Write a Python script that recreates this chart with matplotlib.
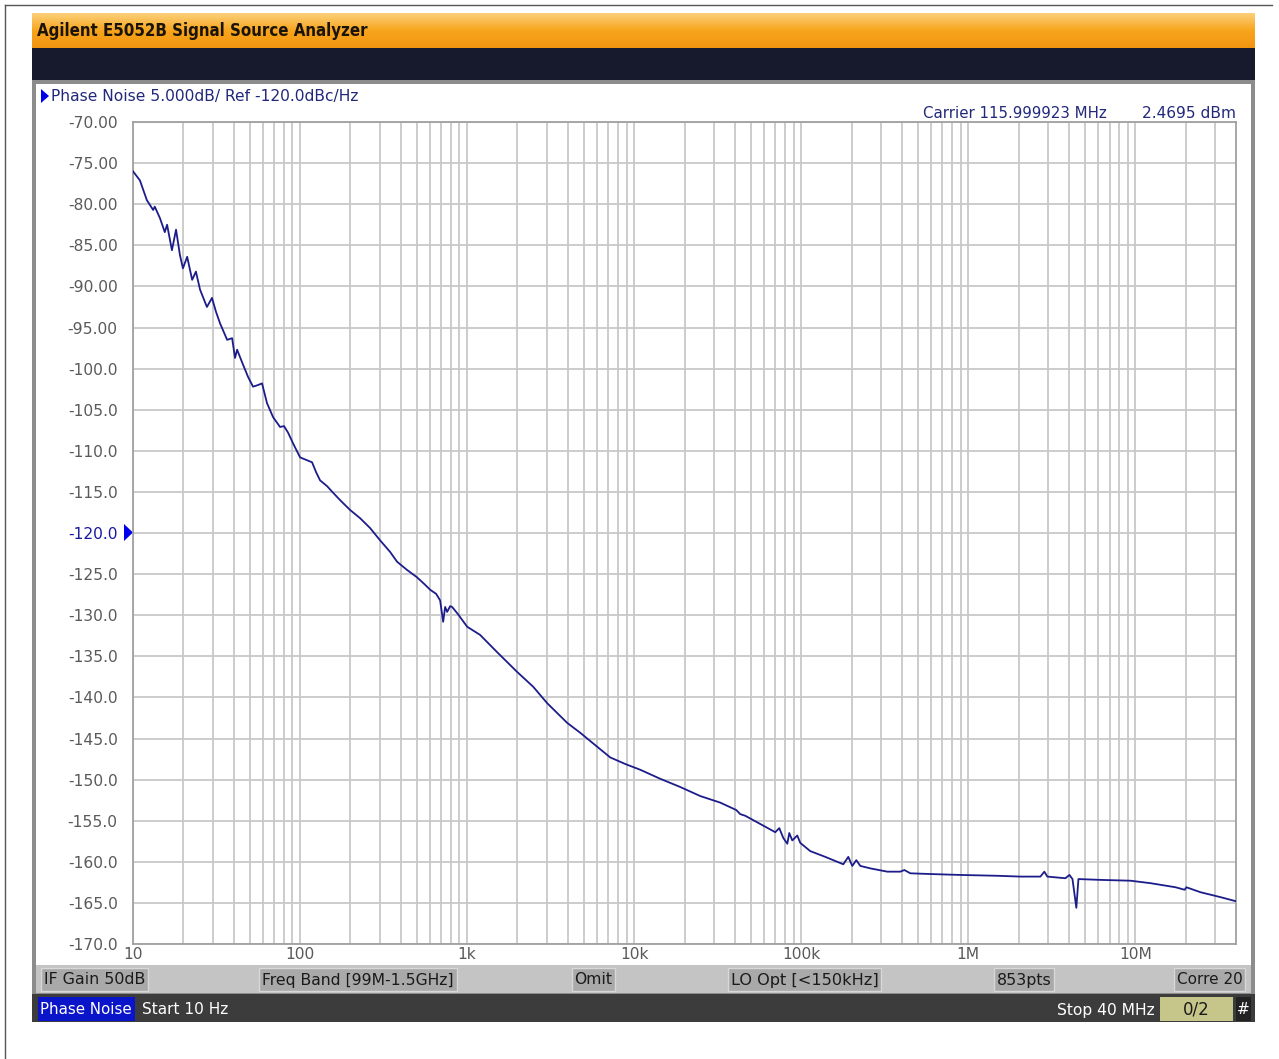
import numpy as np
import matplotlib
matplotlib.use("Agg")
import matplotlib.pyplot as plt
from matplotlib.patches import Rectangle, Polygon
from matplotlib.ticker import FixedLocator, NullFormatter
from matplotlib.colors import LinearSegmentedColormap

# ---------------- data ----------------
freq_hz = [10, 11.0, 12.1, 13.2, 13.5, 14.5, 15.5, 16.0, 17.1, 18.1, 19.1, 19.9, 21.1,
           22.6, 23.8, 25.2, 27.7, 29.7, 31.4, 33.2, 36.6, 39.2, 40.8, 42.0, 44.9,
           48.8, 52.3, 56.0, 59.2, 63.4, 68.9, 75.9, 80.2, 84.8, 90.8, 100, 108.6,
           118.0, 124.7, 131.8, 145.1, 157.6, 173.6, 199.3, 228.8, 262.6, 301.5,
           345.8, 380.9, 437.2, 501.9, 560.3, 600.2, 652.3, 689.2, 718.5, 738.6,
           759.3, 791.1, 813.4, 883.4, 1000, 1196, 1512, 1992, 2484, 3013, 3971,
           4750, 6003, 7183, 8831, 10860, 14310, 18860, 24850, 32730, 40830, 43120,
           46200, 56830, 69880, 73850, 78040, 82470, 84760, 88340, 94630, 98620,
           113200, 139200, 178400, 191200, 202000, 213500, 225600, 259000, 327300,
           391600, 413900, 449500, 617200, 895400, 1.49e6, 2.05e6, 2.70e6, 2.85e6,
           2.97e6, 3.81e6, 4.03e6, 4.20e6, 4.43e6, 4.56e6, 6.17e6, 9.33e6, 1.23e7,
           1.74e7, 1.97e7, 2.02e7, 2.45e7, 3.23e7, 4.0e7]
phase_noise_dbc = [-76.0, -77.1, -79.5, -80.7, -80.3, -81.7, -83.4, -82.5, -85.6, -83.1,
                   -86.2, -87.8, -86.4, -89.2, -88.2, -90.4, -92.5, -91.4, -93.1, -94.5,
                   -96.5, -96.3, -98.7, -97.7, -99.2, -101.0, -102.2, -102.0, -101.8,
                   -104.2, -105.9, -107.1, -107.0, -107.8, -109.1, -110.8, -111.1,
                   -111.4, -112.6, -113.6, -114.3, -115.1, -116.0, -117.2, -118.2,
                   -119.4, -120.9, -122.3, -123.5, -124.5, -125.4, -126.3, -126.9,
                   -127.4, -128.2, -130.8, -129.0, -129.6, -128.9, -129.0, -129.9,
                   -131.4, -132.4, -134.5, -136.9, -138.7, -140.7, -143.1, -144.3,
                   -146.0, -147.3, -148.1, -148.8, -149.9, -150.9, -152.0, -152.8,
                   -153.7, -154.2, -154.4, -155.4, -156.4, -155.9, -157.1, -157.8,
                   -156.5, -157.4, -156.8, -157.7, -158.7, -159.4, -160.3, -159.4,
                   -160.5, -159.8, -160.5, -160.8, -161.2, -161.2, -161.0, -161.4,
                   -161.5, -161.6, -161.7, -161.8, -161.8, -161.2, -161.8, -162.0,
                   -161.6, -162.1, -165.6, -162.1, -162.2, -162.3, -162.6, -163.1,
                   -163.4, -163.1, -163.7, -164.3, -164.8]

y_ticks = [-70, -75, -80, -85, -90, -95, -100, -105, -110, -115, -120, -125, -130,
           -135, -140, -145, -150, -155, -160, -165, -170]
y_tick_labels = ["-70.00", "-75.00", "-80.00", "-85.00", "-90.00", "-95.00", "-100.0",
                 "-105.0", "-110.0", "-115.0", "-120.0", "-125.0", "-130.0", "-135.0",
                 "-140.0", "-145.0", "-150.0", "-155.0", "-160.0", "-165.0", "-170.0"]
x_ticks = [10, 100, 1e3, 1e4, 1e5, 1e6, 1e7]
x_tick_labels = ["10", "100", "1k", "10k", "100k", "1M", "10M"]
f_start, f_stop = 10, 4e7
ref_level = -120.0

title_text = "Agilent E5052B Signal Source Analyzer"
header_text = "Phase Noise 5.000dB/ Ref -120.0dBc/Hz"
carrier_text = "Carrier 115.999923 MHz"
power_text = "2.4695 dBm"
status_buttons = ["IF Gain 50dB", "Freq Band [99M-1.5GHz]", "Omit", "LO Opt [<150kHz]",
                  "853pts", "Corre 20"]
start_text = "Start 10 Hz"
stop_text = "Stop 40 MHz"

# ---------------- figure ----------------
W, H = 1279, 1059
plt.rcParams['font.family'] = ['DejaVu Sans']
fig = plt.figure(figsize=(W / 100, H / 100), dpi=100)
fig.patch.set_facecolor("white")
renderer = fig.canvas.get_renderer()

bg = fig.add_axes([0, 0, 1, 1])
bg.set_xlim(0, W)
bg.set_ylim(H, 0)
bg.axis("off")

def rect(x0, y0, x1, y1, fc, ec="none", lw=0, z=1):
    bg.add_patch(Rectangle((x0, y0), x1 - x0, y1 - y0, facecolor=fc, edgecolor=ec,
                           linewidth=lw, zorder=z))

def fit_text(t, target_w, max_fs=None):
    w = t.get_window_extent(renderer=renderer).width
    if w > 0:
        fs = t.get_fontsize() * target_w / w
        if max_fs is not None:
            fs = min(fs, max_fs)
        t.set_fontsize(fs)

# outer thin frame
bg.plot([5, 5], [5, H], color="#555555", lw=1, zorder=1)
bg.plot([5, 1272], [5, 5], color="#555555", lw=1, zorder=1)

# window body
rect(32, 13, 1255, 1022, "#2a2a2a", z=1)
grad = np.linspace(0, 1, 64).reshape(-1, 1)
orange = LinearSegmentedColormap.from_list("o", ["#fbd07a", "#f8a51c", "#f29410"])
bg.imshow(grad, extent=(32, 1255, 48, 13), cmap=orange, aspect="auto", zorder=2)
t = bg.text(37, 31, title_text, fontsize=14, fontweight="heavy", color="#1a1408",
            va="center", ha="left", zorder=3, fontstretch="condensed")
fit_text(t, 334)
rect(32, 48, 1255, 80, "#161a2c", z=2)
rect(32, 80, 1255, 994, "#8c8c8c", z=2)
rect(36, 84, 1251, 965, "white", z=3)
rect(36, 965, 1251, 993, "#c4c4c4", z=3)
btn_x = [(41, 148), (259, 457), (572, 615), (728, 881), (994, 1054), (1174, 1245)]
for (x0, x1), lab in zip(btn_x, status_buttons):
    rect(x0, 968, x1, 991, "#a9a9a9", ec="#d8d8d8", lw=1, z=4)
    bt = bg.text((x0 + x1) / 2, 980, lab, fontsize=11.5, color="#1a1a1a", ha="center",
                 va="center", zorder=5)
    fit_text(bt, (x1 - x0) - 5, max_fs=12)
rect(32, 994, 1255, 1022, "#3c3c3c", z=2)
rect(38, 997, 135, 1021, "#0a14c8", z=4)
pt = bg.text(86, 1010, "Phase Noise", fontsize=11.5, color="white", ha="center", va="center", zorder=5)
fit_text(pt, 92)
st = bg.text(142, 1010, start_text, fontsize=11.5, color="white", ha="left", va="center", zorder=5)
fit_text(st, 87)
sp = bg.text(1155, 1010, stop_text, fontsize=11.5, color="white", ha="right", va="center", zorder=5)
fit_text(sp, 98)
rect(1160, 997, 1233, 1021, "#c6c68a", z=4)
bg.text(1196, 1010, "0/2", fontsize=12, color="#1a1a1a", ha="center", va="center", zorder=5)
rect(1236, 997, 1251, 1021, "#222222", z=4)
bg.text(1243, 1010, "#", fontsize=11, color="white", ha="center", va="center", zorder=5)

# header texts
bg.add_patch(Polygon([[41, 89], [41, 103], [49, 96]], closed=True, facecolor="#0000ee",
                     zorder=5))
ht = bg.text(51, 96, header_text, fontsize=11.5, color="#22287a", ha="left", va="center", zorder=5)
fit_text(ht, 309)
ct = bg.text(1107, 113, carrier_text, fontsize=11.5, color="#22287a", ha="right", va="center", zorder=5)
fit_text(ct, 184)
pw = bg.text(1236, 113, power_text, fontsize=11.5, color="#22287a", ha="right", va="center", zorder=5)
fit_text(pw, 94)

# reference marker triangle at -120
bg.add_patch(Polygon([[124, 524], [124, 541], [133, 532.5]], closed=True,
                     facecolor="#0000ee", zorder=7))

# ---------------- plot axes ----------------
px0, px1, py0, py1 = 133, 1236, 122, 944
ax = fig.add_axes([px0 / W, 1 - py1 / H, (px1 - px0) / W, (py1 - py0) / H])
ax.set_zorder(6)
ax.set_facecolor("white")
ax.set_xscale("log")
ax.set_xlim(f_start, f_stop)
ax.set_ylim(-170, -70)

minor = [m * 10 ** d for d in range(1, 8) for m in range(2, 10) if m * 10 ** d < f_stop]
ax.xaxis.set_major_locator(FixedLocator(x_ticks))
ax.xaxis.set_minor_locator(FixedLocator(minor))
ax.xaxis.set_minor_formatter(NullFormatter())
ax.set_xticklabels(x_tick_labels)
ax.set_yticks(y_ticks)
ax.set_yticklabels(y_tick_labels)
ax.grid(True, which="both", axis="x", color="#c8c8c8", lw=1.3)
ax.grid(True, which="major", axis="y", color="#c8c8c8", lw=1.3)
ax.tick_params(which="both", length=0, labelsize=11.2, labelcolor="#5a5a5a")
ax.tick_params(axis="y", pad=11)
ax.tick_params(axis="x", pad=2)
for lab in ax.get_yticklabels():
    if lab.get_text() == "-120.0":
        lab.set_color("#1a1aa0")
for s in ax.spines.values():
    s.set_color("#a0a0a0")
    s.set_linewidth(1.3)

ax.plot(freq_hz, phase_noise_dbc, color="#1c1c8a", lw=1.3, zorder=3)

fig.savefig("out.png", dpi=100, facecolor="white")
